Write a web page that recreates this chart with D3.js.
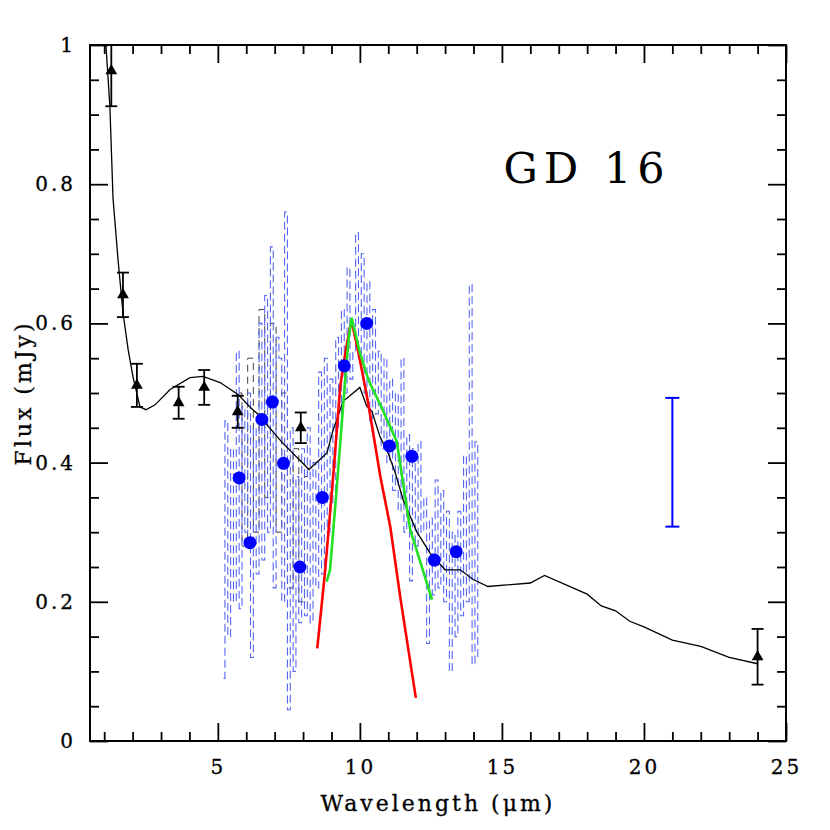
<!DOCTYPE html>
<html>
<head>
<meta charset="utf-8">
<script src="https://cdn.jsdelivr.net/npm/d3@7"></script>
<style>
  body { margin: 0; background: #fff; }
  svg { display: block; }
  text { font-family: "DejaVu Serif", serif; fill: #000; }
</style>
</head>
<body>
<script>
'use strict';

// model photosphere (black solid line)
const modelX = [1.0, 1.06, 1.2, 1.31, 1.49, 1.66, 1.84, 2.01, 2.26, 2.47, 2.79, 3.32, 4.02, 4.48, 5.08, 5.71, 6.13, 6.42, 7.26, 8.21, 8.84, 9.06, 9.41, 10.0, 10.24, 10.42, 10.71, 10.99, 11.24, 11.52, 12.01, 12.47, 13.0, 13.53, 13.99, 14.51, 16.0, 16.5, 18.0, 18.5, 19.0, 19.5, 20.0, 21.0, 22.0, 23.0, 24.0];
const modelY = [1.08, 1.0, 0.912, 0.78, 0.69, 0.616, 0.563, 0.524, 0.48, 0.476, 0.483, 0.505, 0.522, 0.524, 0.515, 0.498, 0.48, 0.469, 0.429, 0.39, 0.414, 0.447, 0.488, 0.508, 0.481, 0.474, 0.437, 0.414, 0.386, 0.347, 0.30, 0.27, 0.246, 0.246, 0.232, 0.222, 0.227, 0.238, 0.211, 0.194, 0.187, 0.172, 0.164, 0.145, 0.136, 0.12, 0.111];

// broadband photometry (triangles with error bars)
const photX = [1.25, 1.66, 2.15, 3.62, 4.52, 5.7, 7.92, 24.0];
const photY = [0.963, 0.641, 0.511, 0.486, 0.508, 0.473, 0.45, 0.121];
const photErr = [0.051, 0.032, 0.031, 0.023, 0.025, 0.023, 0.022, 0.04];

// IRS spectrum (blue dashed)
const specX = [5.2, 5.3, 5.4, 5.5, 5.6, 5.7, 5.8, 5.9, 6.0, 6.1, 6.2, 6.3, 6.4, 6.5, 6.6, 6.7, 6.8, 6.9, 7.0, 7.1,
               7.2, 7.3, 7.4, 7.5, 7.6, 7.7, 7.8, 7.9, 8.0, 8.1, 8.2, 8.3, 8.4, 8.5, 8.6, 8.7, 8.8, 8.9, 9.0, 9.1,
               9.2, 9.3, 9.4, 9.5, 9.6, 9.7, 9.8, 9.9, 10.0, 10.1, 10.2, 10.3, 10.4, 10.5, 10.6, 10.7, 10.8, 10.9, 11.0, 11.1,
               11.2, 11.3, 11.4, 11.5, 11.6, 11.7, 11.8, 11.9, 12.0, 12.1, 12.2, 12.3, 12.4, 12.5, 12.6, 12.7, 12.8, 12.9, 13.0, 13.1,
               13.2, 13.3, 13.4, 13.5, 13.6, 13.7, 13.8, 13.9, 14.0, 14.1, 14.2];
const specY = [0.09, 0.46, 0.15, 0.42, 0.20, 0.56, 0.19, 0.48, 0.30, 0.50, 0.12, 0.45, 0.24, 0.60, 0.26, 0.64, 0.30, 0.71, 0.22, 0.58,
               0.55, 0.20, 0.76, 0.045, 0.45, 0.10, 0.38, 0.17, 0.42, 0.18, 0.45, 0.17, 0.40, 0.22, 0.53, 0.24, 0.55, 0.30, 0.52, 0.34,
               0.58, 0.45, 0.62, 0.50, 0.68, 0.52, 0.56, 0.73, 0.55, 0.70, 0.50, 0.66, 0.46, 0.62, 0.47, 0.56, 0.42, 0.55, 0.40, 0.52,
               0.36, 0.50, 0.33, 0.55, 0.30, 0.44, 0.23, 0.42, 0.28, 0.43, 0.30, 0.35, 0.14, 0.32, 0.21, 0.375, 0.22, 0.36, 0.20, 0.33,
               0.10, 0.30, 0.15, 0.33, 0.18, 0.41, 0.20, 0.656, 0.11, 0.43, 0.12];

// second nod (dark dashed, mostly hidden)
const spec2X = [5.75, 5.95, 6.15, 6.35, 6.55, 6.75, 6.95, 7.15, 7.35, 7.55, 7.75, 7.95, 8.15];
const spec2Y = [0.50, 0.28, 0.55, 0.30, 0.62, 0.35, 0.60, 0.30, 0.50, 0.22, 0.42, 0.20, 0.38];

// binned spectrum (blue dots)
const dotX = [5.75, 6.13, 6.55, 6.92, 7.31, 7.89, 8.68, 9.45, 10.24, 11.04, 11.83, 12.62, 13.39];
const dotY = [0.378, 0.285, 0.462, 0.487, 0.399, 0.25, 0.35, 0.539, 0.60, 0.424, 0.409, 0.26, 0.272];

// silicate models
const redX = [8.5, 8.78, 9.08, 9.31, 9.49, 9.66, 9.72, 9.95, 10.25, 10.43, 10.72, 11.07, 11.42, 11.97];
const redY = [0.133, 0.246, 0.39, 0.51, 0.558, 0.596, 0.601, 0.558, 0.495, 0.452, 0.38, 0.308, 0.207, 0.062];
const greenX = [8.83, 8.95, 9.19, 9.42, 9.6, 9.71, 10.0, 10.3, 10.8, 11.3, 11.77, 12.54];
const greenY = [0.229, 0.246, 0.366, 0.486, 0.577, 0.608, 0.558, 0.519, 0.476, 0.43, 0.304, 0.203];

// typical spectrum error
const errBarX = 21.0;
const errBarLow = 0.308;
const errBarHigh = 0.493;

const xTicks = [5, 10, 15, 20, 25];
const yTicks = [0, 0.2, 0.4, 0.6, 0.8, 1];

const W = 830, H = 830;
const plot = { left: 90, right: 786, top: 45, bottom: 741 };

const svg = d3.select("body").append("svg")
    .attr("width", W)
    .attr("height", H);

const x = d3.scaleLinear().domain([0.5, 25]).range([plot.left, plot.right]);
const y = d3.scaleLinear().domain([0, 1]).range([plot.bottom, plot.top]);

svg.append("clipPath").attr("id", "clip")
    .append("rect")
    .attr("x", plot.left).attr("y", plot.top)
    .attr("width", plot.right - plot.left).attr("height", plot.bottom - plot.top);

const g = svg.append("g").attr("clip-path", "url(#clip)");

const zip = (xs, ys) => xs.map((v, i) => [v, ys[i]]);
const line = d3.line().x(d => x(d[0])).y(d => y(d[1]));
const stepLine = d3.line().x(d => x(d[0])).y(d => y(d[1])).curve(d3.curveStep);

// spectra
g.append("path")
    .attr("d", stepLine(zip(spec2X, spec2Y)))
    .attr("fill", "none")
    .attr("stroke", "#444")
    .attr("stroke-width", 1)
    .attr("stroke-dasharray", "7,5");

g.append("path")
    .attr("d", stepLine(zip(specX, specY)))
    .attr("fill", "none")
    .attr("stroke", "#5566f2")
    .attr("stroke-width", 1.1)
    .attr("stroke-dasharray", "8,4");

// model
g.append("path")
    .attr("d", line(zip(modelX, modelY)))
    .attr("fill", "none")
    .attr("stroke", "#000")
    .attr("stroke-width", 1.3);

g.append("path")
    .attr("d", line(zip(redX, redY)))
    .attr("fill", "none")
    .attr("stroke", "#ff0000")
    .attr("stroke-width", 2.6);

g.append("path")
    .attr("d", line(zip(greenX, greenY)))
    .attr("fill", "none")
    .attr("stroke", "#22e022")
    .attr("stroke-width", 2.6);

// dots
g.selectAll("circle.dot")
    .data(zip(dotX, dotY))
    .enter().append("circle")
    .attr("class", "dot")
    .attr("cx", d => x(d[0]))
    .attr("cy", d => y(d[1]))
    .attr("r", 6.5)
    .attr("fill", "#0000ff");

// photometry
const phot = photX.map((v, i) => ({ x: v, y: photY[i], e: photErr[i] }));
const cap = 6;
const eb = g.selectAll("g.phot").data(phot).enter().append("g").attr("class", "phot")
    .attr("stroke", "#000").attr("stroke-width", 1.8);
eb.append("line")
    .attr("x1", d => x(d.x)).attr("x2", d => x(d.x))
    .attr("y1", d => y(d.y - d.e)).attr("y2", d => y(d.y + d.e));
eb.append("line")
    .attr("x1", d => x(d.x) - cap).attr("x2", d => x(d.x) + cap)
    .attr("y1", d => y(d.y - d.e)).attr("y2", d => y(d.y - d.e));
eb.append("line")
    .attr("x1", d => x(d.x) - cap).attr("x2", d => x(d.x) + cap)
    .attr("y1", d => y(d.y + d.e)).attr("y2", d => y(d.y + d.e));
g.selectAll("path.tri").data(phot).enter().append("path")
    .attr("class", "tri")
    .attr("d", d3.symbol().type(d3.symbolTriangle).size(60))
    .attr("transform", d => "translate(" + x(d.x) + "," + y(d.y) + ")")
    .attr("fill", "#000");

// blue error bar
const be = g.append("g").attr("stroke", "#0000ff").attr("stroke-width", 2);
be.append("line")
    .attr("x1", x(errBarX)).attr("x2", x(errBarX))
    .attr("y1", y(errBarLow)).attr("y2", y(errBarHigh));
[errBarLow, errBarHigh].forEach(v => {
    be.append("line")
        .attr("x1", x(errBarX) - 7).attr("x2", x(errBarX) + 7)
        .attr("y1", y(v)).attr("y2", y(v));
});

// axes: ticks pointing inward on all four sides
function styleAxis(sel) {
    sel.select(".domain").remove();
    sel.selectAll("line").attr("stroke", "#000").attr("stroke-width", 1.8);
}
function styleLabels(sel) {
    sel.selectAll("text")
        .style("font-family", "'DejaVu Serif', serif")
        .style("font-size", "20px")
        .style("letter-spacing", "3px")
        .attr("stroke", "#000")
        .attr("stroke-width", 0.3);
}
const xMinor = d3.range(1, 25, 1).filter(v => v % 5 !== 0);
const yMinor = d3.range(0.05, 1, 0.05).filter(v => Math.abs(v * 5 - Math.round(v * 5)) > 1e-6);

svg.append("g").attr("transform", "translate(0," + plot.bottom + ")")
    .call(d3.axisBottom(x).tickValues(xTicks).tickSize(-18).tickPadding(19).tickFormat(d3.format("d")))
    .call(styleAxis)
    .call(styleLabels);
svg.append("g").attr("transform", "translate(0," + plot.bottom + ")")
    .call(d3.axisBottom(x).tickValues(xMinor).tickSize(-9).tickFormat(""))
    .call(styleAxis);
svg.append("g").attr("transform", "translate(0," + plot.top + ")")
    .call(d3.axisTop(x).tickValues(xTicks).tickSize(-18).tickFormat(""))
    .call(styleAxis);
svg.append("g").attr("transform", "translate(0," + plot.top + ")")
    .call(d3.axisTop(x).tickValues(xMinor).tickSize(-9).tickFormat(""))
    .call(styleAxis);

svg.append("g").attr("transform", "translate(" + plot.left + ",0)")
    .call(d3.axisLeft(y).tickValues(yTicks).tickSize(-18).tickPadding(14).tickFormat(d3.format("~g")))
    .call(styleAxis)
    .call(styleLabels);
svg.append("g").attr("transform", "translate(" + plot.left + ",0)")
    .call(d3.axisLeft(y).tickValues(yMinor).tickSize(-9).tickFormat(""))
    .call(styleAxis);
svg.append("g").attr("transform", "translate(" + plot.right + ",0)")
    .call(d3.axisRight(y).tickValues(yTicks).tickSize(-18).tickFormat(""))
    .call(styleAxis);
svg.append("g").attr("transform", "translate(" + plot.right + ",0)")
    .call(d3.axisRight(y).tickValues(yMinor).tickSize(-9).tickFormat(""))
    .call(styleAxis);

// frame
svg.append("rect")
    .attr("x", plot.left).attr("y", plot.top)
    .attr("width", plot.right - plot.left).attr("height", plot.bottom - plot.top)
    .attr("fill", "none").attr("stroke", "#000").attr("stroke-width", 2);

// titles
svg.append("text")
    .attr("x", (plot.left + plot.right) / 2)
    .attr("y", 811)
    .attr("text-anchor", "middle")
    .attr("stroke", "#000").attr("stroke-width", 0.3)
    .style("font-size", "22px")
    .style("letter-spacing", "3px")
    .text("Wavelength (\u03bcm)");

svg.append("text")
    .attr("transform", "translate(31," + ((plot.top + plot.bottom) / 2) + ") rotate(-90)")
    .attr("text-anchor", "middle")
    .attr("stroke", "#000").attr("stroke-width", 0.3)
    .style("font-size", "22px")
    .style("letter-spacing", "3px")
    .text("Flux (mJy)");

svg.append("text")
    .attr("x", 587)
    .attr("y", 183)
    .attr("text-anchor", "middle")
    .style("font-size", "43px")
    .style("letter-spacing", "6px")
    .text("GD 16");
</script>
</body>
</html>
